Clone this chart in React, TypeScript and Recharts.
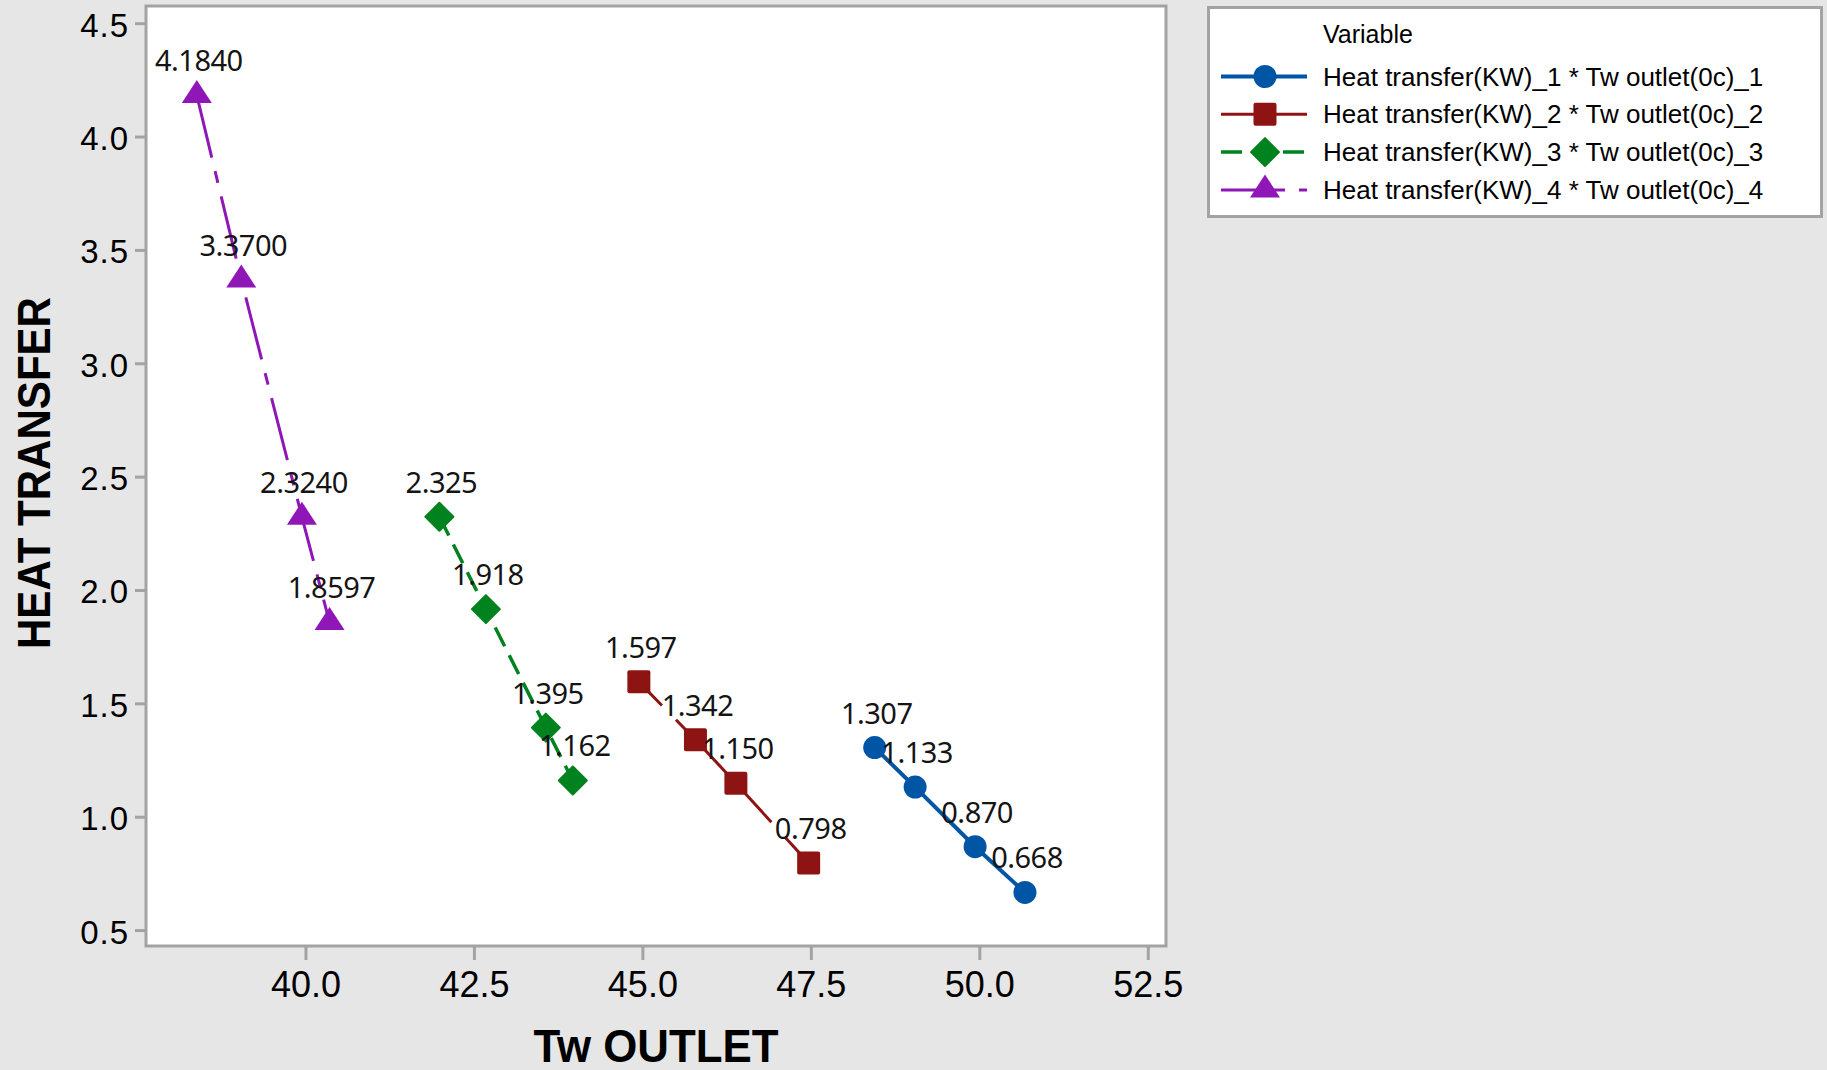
import React from 'react';
import {
  LineChart,
  Line,
  XAxis,
  YAxis,
  CartesianGrid,
  ReferenceArea,
  Legend,
  Label,
} from 'recharts';

// Tw outlet (°C) readings and the matching heat transfer (kW), one pair of arrays per run
const TW_1 = [48.44, 49.04, 49.93, 50.67];
const HT_1 = [1.307, 1.133, 0.87, 0.668];
const TW_2 = [44.94, 45.78, 46.38, 47.46];
const HT_2 = [1.597, 1.342, 1.15, 0.798];
const TW_3 = [41.98, 42.67, 43.56, 43.96];
const HT_3 = [2.325, 1.918, 1.395, 1.162];
const TW_4 = [38.38, 39.04, 39.94, 40.35];
const HT_4 = [4.184, 3.37, 2.324, 1.8597];

const X_TICKS = [40, 42.5, 45, 47.5, 50, 52.5];
const Y_TICKS = [0.5, 1, 1.5, 2, 2.5, 3, 3.5, 4, 4.5];
const X_DOMAIN: [number, number] = [37.626, 52.763];
const Y_DOMAIN: [number, number] = [0.432, 4.578];

const SERIES_NAMES = [
  'Heat transfer(KW)_1 * Tw outlet(0c)_1',
  'Heat transfer(KW)_2 * Tw outlet(0c)_2',
  'Heat transfer(KW)_3 * Tw outlet(0c)_3',
  'Heat transfer(KW)_4 * Tw outlet(0c)_4',
];

type Shape = 'circle' | 'square' | 'diamond' | 'triangle';

interface SeriesStyle {
  color: string;
  shape: Shape;
  width: number;
  dash?: string;
  dashOffset?: number;
  decimals: number;
}

const STYLES: SeriesStyle[] = [
  { color: '#0055a5', shape: 'circle', width: 4, decimals: 3 },
  { color: '#8e1414', shape: 'square', width: 3, dash: '140 20', dashOffset: 107, decimals: 3 },
  { color: '#00821f', shape: 'diamond', width: 3.5, dash: '21 10', decimals: 3 },
  { color: '#8f17b8', shape: 'triangle', width: 3, dash: '64 14 12 14', decimals: 4 },
];

const toPoints = (xs: number[], ys: number[]) => xs.map((x, i) => ({ x, y: ys[i] }));

const SERIES_DATA = [
  toPoints(TW_1, HT_1),
  toPoints(TW_2, HT_2),
  toPoints(TW_3, HT_3),
  toPoints(TW_4, HT_4),
];

const BG = '#e6e6e6';
const FRAME = '#a3a3a3';
const SANS = '"Liberation Sans", Arial, sans-serif';

function Marker({ shape, cx, cy, color }: { shape: Shape; cx: number; cy: number; color: string }) {
  switch (shape) {
    case 'circle':
      return <circle cx={cx} cy={cy} r={11.5} fill={color} />;
    case 'square':
      return <rect x={cx - 11.5} y={cy - 11.5} width={23} height={23} rx={2} fill={color} />;
    case 'diamond':
      return (
        <polygon
          points={`${cx},${cy - 14} ${cx + 14},${cy} ${cx},${cy + 14} ${cx - 14},${cy}`}
          fill={color}
          stroke={color}
          strokeWidth={2}
          strokeLinejoin="round"
        />
      );
    default:
      return (
        <polygon
          points={`${cx},${cy - 15.3} ${cx + 15},${cy + 7.7} ${cx - 15},${cy + 7.7}`}
          fill={color}
        />
      );
  }
}

function ValueLabel({ x, y, value, decimals }: any) {
  if (x == null || y == null) return null;
  return (
    <text
      x={x + 2}
      y={y - 24}
      textAnchor="middle"
      fontFamily='"Noto Sans", sans-serif'
      fontSize={29}
      letterSpacing={-0.5}
      fill="#141414"
    >
      {Number(value).toFixed(decimals)}
    </text>
  );
}

function XTick({ x, y, payload }: any) {
  return (
    <text x={x} y={y + 35} textAnchor="middle" fontFamily={SANS} fontSize={36} fill="#000">
      {Number(payload.value).toFixed(1)}
    </text>
  );
}

function YTick({ x, y, payload }: any) {
  return (
    <text x={x} y={y + 13} textAnchor="end" fontFamily={SANS} fontSize={33} letterSpacing={1} fill="#000">
      {Number(payload.value).toFixed(1)}
    </text>
  );
}

function LegendBox() {
  return (
    <svg width={616} height={212} style={{ display: 'block' }}>
      <rect x={1.5} y={1.5} width={613} height={209} fill="#fff" stroke={FRAME} strokeWidth={3} />
      <text x={116} y={37} fontFamily={SANS} fontSize={25} fill="#000">
        Variable
      </text>
      {STYLES.map((s, i) => {
        const cy = 70.5 + i * 37.8;
        return (
          <g key={SERIES_NAMES[i]}>
            <line
              x1={14}
              x2={100}
              y1={cy}
              y2={cy}
              stroke={s.color}
              strokeWidth={s.width}
              strokeDasharray={s.dash && i !== 1 ? s.dash : undefined}
            />
            <Marker shape={s.shape} cx={58} cy={cy} color={s.color} />
            <text x={116} y={cy + 9} fontFamily={SANS} fontSize={26} fill="#000">
              {SERIES_NAMES[i]}
            </text>
          </g>
        );
      })}
    </svg>
  );
}

export default function App() {
  return (
    <div style={{ position: 'absolute', left: 0, top: 0, width: 1827, height: 1070, background: BG }}>
      <LineChart width={1827} height={1070} margin={{ top: 6, right: 661, bottom: 0, left: 0 }}>
        <CartesianGrid fill="#ffffff" stroke="none" horizontal={false} vertical={false} />
        <XAxis
          type="number"
          dataKey="x"
          domain={X_DOMAIN}
          ticks={X_TICKS}
          allowDataOverflow
          height={124}
          axisLine={false}
          tickSize={14}
          tickMargin={2}
          tickLine={{ stroke: FRAME, strokeWidth: 3 }}
          tick={<XTick />}
        >
          <Label
            content={({ viewBox }: any) => (
              <text
                x={viewBox.x + viewBox.width / 2}
                y={viewBox.y + 116}
                textAnchor="middle"
                fontFamily={SANS}
                fontWeight="bold"
                fontSize={46}
                textLength={245}
                lengthAdjust="spacingAndGlyphs"
                fill="#000"
              >
                Tw OUTLET
              </text>
            )}
          />
        </XAxis>
        <YAxis
          type="number"
          dataKey="y"
          domain={Y_DOMAIN}
          ticks={Y_TICKS}
          allowDataOverflow
          width={146}
          axisLine={false}
          tickSize={11}
          tickMargin={6}
          tickLine={{ stroke: FRAME, strokeWidth: 3 }}
          tick={<YTick />}
        >
          <Label
            content={() => (
              <text
                x={50}
                y={473}
                transform="rotate(-90, 50, 473)"
                textAnchor="middle"
                fontFamily={SANS}
                fontWeight="bold"
                fontSize={47}
                textLength={352}
                lengthAdjust="spacingAndGlyphs"
                fill="#000"
              >
                HEAT TRANSFER
              </text>
            )}
          />
        </YAxis>
        <ReferenceArea
          x1={X_DOMAIN[0]}
          x2={X_DOMAIN[1]}
          y1={Y_DOMAIN[0]}
          y2={Y_DOMAIN[1]}
          fill="none"
          fillOpacity={0}
          stroke={FRAME}
          strokeWidth={3}
          ifOverflow="visible"
        />
        <Legend
          layout="vertical"
          align="center"
          verticalAlign="middle"
          content={() => <LegendBox />}
          wrapperStyle={{ left: 1207, top: 6, width: 616, height: 212, right: 'auto', bottom: 'auto' }}
        />
        {STYLES.map((s, i) => (
          <Line
            key={SERIES_NAMES[i]}
            name={SERIES_NAMES[i]}
            data={SERIES_DATA[i]}
            dataKey="y"
            type="linear"
            stroke={s.color}
            strokeWidth={s.width}
            strokeDasharray={s.dash}
            strokeDashoffset={s.dashOffset}
            isAnimationActive={false}
            dot={(p: any) => <Marker key={`${i}-${p.index}`} shape={s.shape} cx={p.cx} cy={p.cy} color={s.color} />}
            activeDot={false}
            label={(p: any) => <ValueLabel key={`${i}-${p.index}`} {...p} decimals={s.decimals} />}
          />
        ))}
      </LineChart>
    </div>
  );
}
